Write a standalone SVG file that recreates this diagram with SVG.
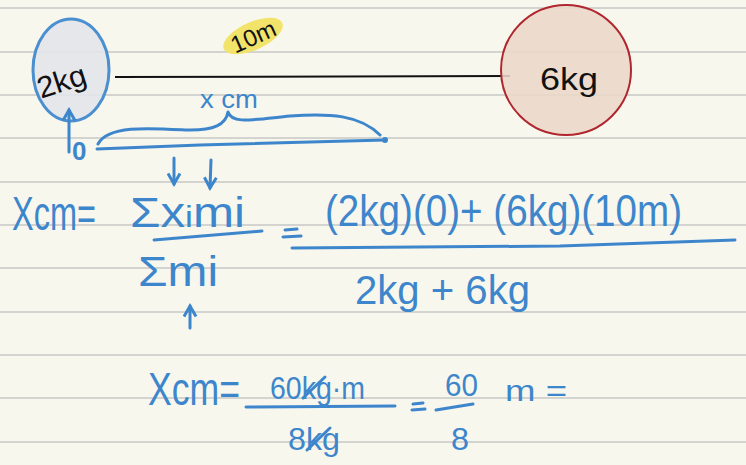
<svg xmlns="http://www.w3.org/2000/svg" width="746" height="465" viewBox="0 0 746 465">
<defs>
<style>
.rule{stroke:#d3d3cf;stroke-width:2}
.ink{fill:#3d86cc;font-family:"Liberation Sans","DejaVu Sans",sans-serif}
.blk{fill:#111;font-family:"Liberation Sans","DejaVu Sans",sans-serif}
.pen{fill:none;stroke:#3d86cc;stroke-width:3;stroke-linecap:round;stroke-linejoin:round}
</style>
<marker id="ah" viewBox="0 0 10 10" refX="8" refY="5" markerWidth="5" markerHeight="5" orient="auto-start-reverse">
<path d="M1,1 L8,5 L1,9" fill="none" stroke="#3d86cc" stroke-width="2"/>
</marker>
</defs>
<rect width="746" height="465" fill="#f8f7ee"/>
<g id="ruling">
<line class="rule" x1="0" y1="8" x2="746" y2="8"/>
<line class="rule" x1="0" y1="52" x2="746" y2="52"/>
<line class="rule" x1="0" y1="95" x2="746" y2="95"/>
<line class="rule" x1="0" y1="138" x2="746" y2="138"/>
<line class="rule" x1="0" y1="182" x2="746" y2="182"/>
<line class="rule" x1="0" y1="225" x2="746" y2="225"/>
<line class="rule" x1="0" y1="268" x2="746" y2="268"/>
<line class="rule" x1="0" y1="312" x2="746" y2="312"/>
<line class="rule" x1="0" y1="355" x2="746" y2="355"/>
<line class="rule" x1="0" y1="398" x2="746" y2="398"/>
<line class="rule" x1="0" y1="442" x2="746" y2="442"/>
</g>
<g id="connectors">
<line x1="115" y1="77" x2="510" y2="76" stroke="#111" stroke-width="2"/>
</g>
<g id="mass-2kg">
<ellipse cx="71" cy="70" rx="38" ry="51" fill="#e1e5ea" fill-opacity="0.88" stroke="#4a8fd0" stroke-width="3"/>
<text class="blk" x="36" y="92" font-size="30" textLength="50" lengthAdjust="spacingAndGlyphs" transform="rotate(-18 60 80)">2kg</text>
</g>
<g id="mass-6kg">
<circle cx="566" cy="70" r="65" fill="#ebd8c9" fill-opacity="0.88" stroke="#b0262e" stroke-width="2"/>
<text class="blk" x="540" y="90" font-size="32" textLength="58" lengthAdjust="spacingAndGlyphs">6kg</text>
</g>
<g id="distance-label">
<ellipse cx="253" cy="36" rx="32" ry="14" fill="#f2e36a" transform="rotate(-24 253 36)"/>
<text class="blk" x="253" y="45" font-size="24" text-anchor="middle" transform="rotate(-24 253 36)">10m</text>
</g>
<g id="xcm-brace">
<text class="ink" x="200" y="108" font-size="26" textLength="58" lengthAdjust="spacingAndGlyphs">x cm</text>
<path class="pen" d="M98,144 C108,125 150,128 185,130 C215,131 226,124 228,112 C232,124 250,120 290,116 C330,113 360,115 380,135"/>
<path class="pen" d="M97,149 L200,145 L385,140"/>
<circle cx="385" cy="140" r="3" fill="#3d86cc"/>
<text class="ink" x="72" y="160" font-size="26" font-weight="bold">0</text>
<line class="pen" x1="69" y1="152" x2="69" y2="110" marker-end="url(#ah)"/>
<line class="pen" x1="174" y1="158" x2="174" y2="184" marker-end="url(#ah)"/>
<line class="pen" x1="211" y1="160" x2="210" y2="188" marker-end="url(#ah)"/>
<line class="pen" x1="190" y1="328" x2="190" y2="306" marker-end="url(#ah)"/>
</g>
<g id="formula">
<text class="ink" x="0" y="0" font-size="37" textLength="84" lengthAdjust="spacingAndGlyphs" transform="translate(12,230) scale(1,1.3)">Xcm=</text>
<text class="ink" x="130" y="227" font-size="42" textLength="115" lengthAdjust="spacingAndGlyphs">Σx<tspan font-size="30">i</tspan>mi</text>
<path class="pen" d="M154,240 L262,231"/>
<text class="ink" x="138" y="286" font-size="42" textLength="80" lengthAdjust="spacingAndGlyphs">Σmi</text>
<path class="pen" d="M285,230 L297,229 M283,237 L301,236"/>
<text class="ink" x="325" y="226" font-size="44" textLength="357" lengthAdjust="spacingAndGlyphs">(2kg)(0)+  (6kg)(10m)</text>
<path class="pen" d="M292,248 L560,246 L735,240"/>
<text class="ink" x="355" y="304" font-size="40" textLength="175" lengthAdjust="spacingAndGlyphs">2kg + 6kg</text>
</g>
<g id="result">
<text class="ink" x="0" y="0" font-size="37" textLength="92" lengthAdjust="spacingAndGlyphs" transform="translate(148,405) scale(1,1.25)">Xcm=</text>
<text class="ink" x="270" y="399" font-size="32" textLength="95" lengthAdjust="spacingAndGlyphs">60kg·m</text>
<path class="pen" d="M303,398 L325,377"/>
<path class="pen" d="M246,407 L395,406"/>
<text class="ink" x="288" y="450" font-size="32" textLength="52" lengthAdjust="spacingAndGlyphs">8kg</text>
<path class="pen" d="M307,450 L330,428"/>
<path class="pen" d="M413,404 L423,403 M412,410 L425,409"/>
<text class="ink" x="445" y="396" font-size="32" textLength="33" lengthAdjust="spacingAndGlyphs">60</text>
<path class="pen" d="M436,410 L473,404"/>
<text class="ink" x="451" y="450" font-size="32" textLength="18" lengthAdjust="spacingAndGlyphs">8</text>
<text class="ink" x="505" y="401" font-size="30" textLength="62" lengthAdjust="spacingAndGlyphs">m =</text>
</g>
</svg>
